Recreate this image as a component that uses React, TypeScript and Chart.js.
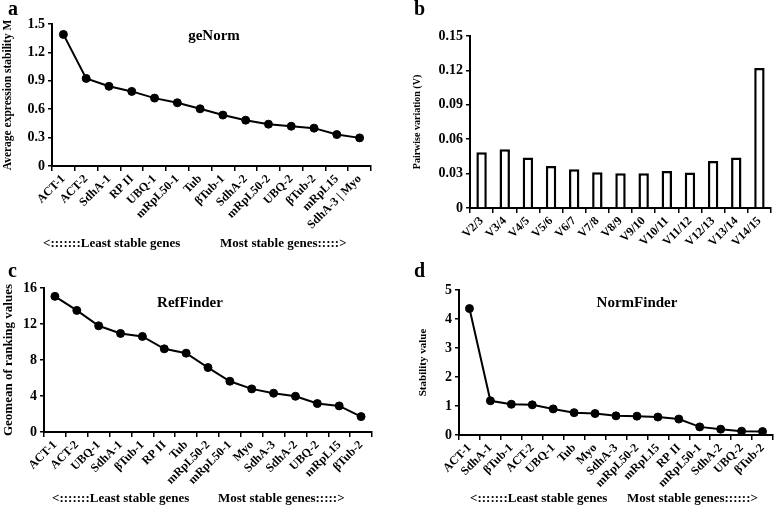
import React, { useEffect, useRef } from 'react';
import { Chart, registerables } from 'chart.js';
Chart.register(...registerables);

const FONT = '"Liberation Serif", "Times New Roman", serif';

// Panel a: geNorm
const genormGenes = ['ACT-1', 'ACT-2', 'SdhA-1', 'RP II', 'UBQ-1', 'mRpL50-1', 'Tub', 'βTub-1', 'SdhA-2', 'mRpL50-2', 'UBQ-2', 'βTub-2', 'mRpL15', 'SdhA-3 | Myo'];
const genormM = [1.39, 0.925, 0.842, 0.788, 0.717, 0.668, 0.604, 0.538, 0.484, 0.442, 0.42, 0.4, 0.332, 0.297];

// Panel b: pairwise variation
const pairLabels = ['V2/3', 'V3/4', 'V4/5', 'V5/6', 'V6/7', 'V7/8', 'V8/9', 'V9/10', 'V10/11', 'V11/12', 'V12/13', 'V13/14', 'V14/15'];
const pairV = [0.0486, 0.0513, 0.044, 0.0367, 0.0338, 0.0311, 0.0303, 0.0303, 0.0323, 0.031, 0.041, 0.044, 0.122];

// Panel c: RefFinder
const refGenes = ['ACT-1', 'ACT-2', 'UBQ-1', 'SdhA-1', 'βTub-1', 'RP II', 'Tub', 'mRpL50-2', 'mRpL50-1', 'Myo', 'SdhA-3', 'SdhA-2', 'UBQ-2', 'mRpL15', 'βTub-2'];
const refValues = [15.07, 13.51, 11.8, 10.95, 10.62, 9.24, 8.76, 7.16, 5.64, 4.79, 4.31, 3.97, 3.16, 2.9, 1.71];

// Panel d: NormFinder
const normGenes = ['ACT-1', 'SdhA-1', 'βTub-1', 'ACT-2', 'UBQ-1', 'Tub', 'Myo', 'SdhA-3', 'mRpL50-2', 'mRpL15', 'RP II', 'mRpL50-1', 'SdhA-2', 'UBQ-2', 'βTub-2'];
const normValues = [4.36, 1.18, 1.06, 1.04, 0.9, 0.77, 0.74, 0.66, 0.65, 0.62, 0.55, 0.28, 0.2, 0.13, 0.12];

type PanelCfg = {
  kind: 'line' | 'bar';
  labels: string[];
  values: number[];
  left: number; top: number; width: number; height: number;
  padL: number; padT: number; padR: number; padB: number;
  yW: number; xH: number;
  max: number; step: number; decimals: number;
  yTitle: string; yTitleSize: number;
};

function makeConfig(p: PanelCfg): any {
  const dataset: any = p.kind === 'bar'
    ? {
        type: 'bar', data: p.values, backgroundColor: '#ffffff', borderColor: '#000000',
        borderWidth: 2.5, barPercentage: 0.45, categoryPercentage: 1,
      }
    : {
        type: 'line', data: p.values, borderColor: '#000000', borderWidth: 2,
        pointRadius: 4, pointBackgroundColor: '#000000', pointBorderColor: '#000000',
        pointBorderWidth: 1, tension: 0, fill: false,
      };
  return {
    type: p.kind,
    data: { labels: p.labels, datasets: [dataset] },
    options: {
      responsive: false,
      animation: false,
      devicePixelRatio: 1,
      layout: { padding: { left: p.padL, top: p.padT, right: p.padR, bottom: p.padB } },
      plugins: { legend: { display: false }, tooltip: { enabled: false }, title: { display: false } },
      scales: {
        x: {
          type: 'category',
          offset: true,
          grid: { offset: true, drawOnChartArea: false, drawTicks: true, tickLength: 5, color: '#000', lineWidth: 1.5 },
          border: { color: '#000', width: 2 },
          ticks: {
            color: '#000', font: { family: FONT, weight: 'bold', size: 12 },
            maxRotation: 45, minRotation: 45, autoSkip: false, padding: 1,
          },
          afterFit: (s: any) => { s.height = p.xH; },
        },
        y: {
          min: 0, max: p.max,
          ticks: {
            stepSize: p.step, color: '#000', font: { family: FONT, weight: 'bold', size: 14 }, padding: 3,
            callback: (v: any) => (Number(v) === 0 ? '0' : Number(v).toFixed(p.decimals)),
          },
          grid: { drawOnChartArea: false, drawTicks: true, tickLength: 4, color: '#000', lineWidth: 1.5 },
          border: { color: '#000', width: 2 },
          title: {
            display: true, text: p.yTitle, color: '#000',
            font: { family: FONT, weight: 'bold', size: p.yTitleSize }, padding: 0,
          },
          afterFit: (s: any) => { s.width = p.yW; },
        },
      },
    },
  };
}

function Panel({ cfg }: { cfg: PanelCfg }) {
  const ref = useRef<HTMLCanvasElement | null>(null);
  useEffect(() => {
    if (!ref.current) return;
    const chart = new Chart(ref.current, makeConfig(cfg));
    return () => chart.destroy();
  }, []);
  return (
    <canvas
      ref={ref}
      width={cfg.width}
      height={cfg.height}
      style={{ position: 'absolute', left: cfg.left, top: cfg.top, width: cfg.width, height: cfg.height }}
    />
  );
}

const panelA: PanelCfg = {
  kind: 'line', labels: genormGenes, values: genormM,
  left: 0, top: 0, width: 390, height: 255,
  padL: 1, padT: 24, padR: 19, padB: 9, yW: 51, xH: 80,
  max: 1.5, step: 0.3, decimals: 1,
  yTitle: 'Average expression stability M', yTitleSize: 11.5,
};
const panelB: PanelCfg = {
  kind: 'bar', labels: pairLabels, values: pairV,
  left: 390, top: 0, width: 393, height: 255,
  padL: 21, padT: 36, padR: 12, padB: 2, yW: 59, xH: 45,
  max: 0.15, step: 0.03, decimals: 2,
  yTitle: 'Pairwise variation (V)', yTitleSize: 10,
};
const panelC: PanelCfg = {
  kind: 'line', labels: refGenes, values: refValues,
  left: 0, top: 255, width: 390, height: 258,
  padL: 1, padT: 33, padR: 18, padB: 6, yW: 43, xH: 75,
  max: 16, step: 4, decimals: 0,
  yTitle: 'Geomean of ranking values', yTitleSize: 13,
};
const panelD: PanelCfg = {
  kind: 'line', labels: normGenes, values: normValues,
  left: 390, top: 255, width: 393, height: 258,
  padL: 27, padT: 35, padR: 10, padB: 6, yW: 42, xH: 72,
  max: 5, step: 1, decimals: 0,
  yTitle: 'Stability value', yTitleSize: 11,
};

const txt = (size: number): React.CSSProperties => ({
  position: 'absolute', fontFamily: FONT, fontWeight: 'bold', fontSize: size,
  lineHeight: 1, whiteSpace: 'nowrap', color: '#000',
});

export default function App() {
  return (
    <div style={{ position: 'absolute', left: 0, top: 0, width: 783, height: 513, background: '#fff', overflow: 'hidden' }}>
      <Panel cfg={panelA} />
      <Panel cfg={panelB} />
      <Panel cfg={panelC} />
      <Panel cfg={panelD} />

      <div style={{ ...txt(20), left: 8, top: -2 }}>a</div>
      <div style={{ ...txt(20), left: 414, top: -2 }}>b</div>
      <div style={{ ...txt(20), left: 8, top: 260 }}>c</div>
      <div style={{ ...txt(20), left: 414, top: 260 }}>d</div>

      <div style={{ ...txt(15), left: 214, top: 28, transform: 'translateX(-50%)' }}>geNorm</div>
      <div style={{ ...txt(15), left: 190, top: 295, transform: 'translateX(-50%)' }}>RefFinder</div>
      <div style={{ ...txt(15), left: 637, top: 295, transform: 'translateX(-50%)' }}>NormFinder</div>

      <div style={{ ...txt(13), left: 43, top: 236 }}>{'<:::::::Least stable genes'}</div>
      <div style={{ ...txt(13), left: 220, top: 236 }}>{'Most stable genes:::::>'}</div>
      <div style={{ ...txt(13), left: 52, top: 491 }}>{'<:::::::Least stable genes'}</div>
      <div style={{ ...txt(13), left: 218, top: 491 }}>{'Most stable genes:::::>'}</div>
      <div style={{ ...txt(13), left: 470, top: 491 }}>{'<:::::::Least stable genes'}</div>
      <div style={{ ...txt(13), left: 627, top: 491 }}>{'Most stable genes::::::>'}</div>
    </div>
  );
}
